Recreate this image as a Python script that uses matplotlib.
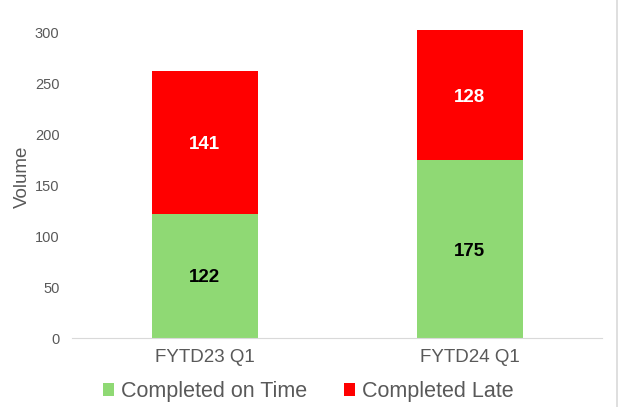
import matplotlib
matplotlib.use("Agg")
import matplotlib.pyplot as plt
from matplotlib.lines import Line2D

categories = ["FYTD23 Q1", "FYTD24 Q1"]
on_time = [122, 175]
late = [141, 128]
series_names = ["Completed on Time", "Completed Late"]
yticks = [0, 50, 100, 150, 200, 250, 300]

plt.rcParams['font.family'] = ['Liberation Sans', 'DejaVu Sans']
green = "#8FD974"
red = "#FF0000"
gray = "#595959"

fig = plt.figure(figsize=(6.21, 4.07), dpi=100)
ax = fig.add_axes([72/621, 1-338/407, (602-72)/621, (338-33)/407])

x = list(range(len(categories)))
b1 = ax.bar(x, on_time, width=0.4, color=green, label=series_names[0], clip_on=False)
b2 = ax.bar(x, late, width=0.4, bottom=on_time, color=red, label=series_names[1], clip_on=False)

for i in x:
    ax.text(i, on_time[i]/2, str(on_time[i]), ha='center', va='center_baseline',
            fontsize=13.5, fontweight='bold', color='black')
    ax.text(i, on_time[i] + late[i]/2, str(late[i]), ha='center', va='center_baseline',
            fontsize=13.5, fontweight='bold', color='white')

ax.set_xlim(-0.5, 1.5)
ax.set_ylim(0, 300)
ax.set_yticks(yticks)
ax.set_xticks(x)
ax.set_xticklabels(categories, fontsize=13.5, color=gray)
ax.tick_params(axis='y', labelsize=10.5, colors=gray, length=0, pad=9)
ax.tick_params(axis='x', length=0, pad=8)
for s in ['top', 'right', 'left']:
    ax.spines[s].set_visible(False)
ax.spines['bottom'].set_color('#D9D9D9')
ax.set_ylabel("Volume", fontsize=13.5, color=gray)
ax.yaxis.set_label_coords((31-72)/530, (338-176.5)/305)

fig.legend(handles=[b1, b2], loc='center', bbox_to_anchor=(308/621, 1-392/407), ncol=2,
           frameon=False, fontsize=15.5, handlelength=0.55, handleheight=0.55,
           handletextpad=0.3, columnspacing=1.7, labelcolor=gray)

fig.add_artist(Line2D([617/621, 617/621], [0, 1], color='#D9D9D9', lw=1.2,
                      transform=fig.transFigure))

fig.savefig("out.png", dpi=100)
